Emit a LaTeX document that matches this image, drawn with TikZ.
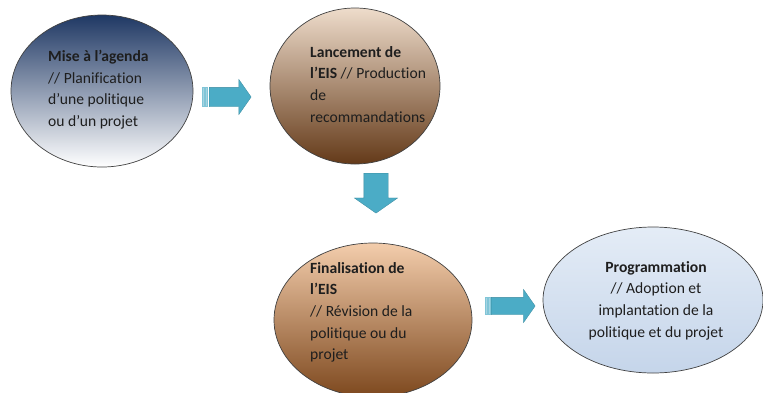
\documentclass[tikz,border=0pt]{standalone}
\usepackage{fontspec}
\setmainfont{Carlito}[Ligatures=NoCommon]
\usetikzlibrary{shapes.geometric,shapes.arrows}

\definecolor{navytop}{RGB}{31,56,100}
\definecolor{tantop}{RGB}{238,220,203}
\definecolor{brownbot}{RGB}{100,58,25}
\definecolor{peachtop}{RGB}{243,205,172}
\definecolor{rustbot}{RGB}{125,72,30}
\definecolor{skytop}{RGB}{228,236,246}
\definecolor{skybot}{RGB}{197,213,234}
\definecolor{arrowblue}{RGB}{75,172,198}
\definecolor{arrowpale}{RGB}{165,212,226}
\definecolor{inkgray}{RGB}{30,30,30}

\begin{document}
\begin{tikzpicture}[x=1pt, y=-1pt,
		phase/.style={ellipse, draw=black!75, line width=0.7pt, inner sep=0pt},
		phasetext/.style={inner sep=0pt, text=inkgray, font=\fontsize{15.6}{21.7}\selectfont},
		blockarrow/.style={single arrow, fill=arrowblue, draw=arrowblue!80!black, line width=0.3pt, inner sep=0pt, single arrow tip angle=110},
		stripe/.style={fill=arrowpale, draw=arrowblue!70, line width=0.3pt}]
		%\draw[lightgray] (0, 0) grid[step=50] (763, 392);
		\useasboundingbox (0, 0) rectangle (763, 392);
		
		\node[phase, minimum width=182, minimum height=152, top color=navytop, bottom color=white] (agenda) at (102, 91) {};
		\node[phase, minimum width=170, minimum height=156, top color=tantop, bottom color=brownbot] (lancement) at (355, 86) {};
		\node[phase, minimum width=198, minimum height=154, top color=peachtop, bottom color=rustbot] (finalisation) at (373, 320) {};
		\node[phase, minimum width=220, minimum height=146, top color=skytop, bottom color=skybot] (programmation) at (653, 300) {};
		
		\node[phasetext, anchor=north west, align=left] (agendatxt) at (48, 50) {\textbf{Mise à l’agenda}\\// Planification\\d’une politique\\ou d’un projet};
		\node[phasetext, anchor=north west, align=left] (lancementtxt) at (310, 46) {\textbf{Lancement de}\\\textbf{l’EIS} // Production\\de\\recommandations};
		\node[phasetext, anchor=north west, align=left] (finalisationtxt) at (310, 262) {\textbf{Finalisation de}\\\textbf{l’EIS}\\// Révision de la\\politique ou du\\projet};
		\node[phasetext, anchor=north, align=center] (programmationtxt) at (656, 261) {\textbf{Programmation}\\// Adoption et\\implantation de la\\politique et du projet};
		
		\node[blockarrow, anchor=tail, inner ysep=9.5pt, minimum width=35, minimum height=42, single arrow head extend=8] (versA) at (209, 97) {};
		\node[blockarrow, anchor=tail, inner xsep=12pt, minimum width=43, minimum height=40, single arrow head extend=9.5, shape border rotate=270] (versB) at (376, 173) {};
		\node[blockarrow, anchor=tail, inner ysep=8.5pt, minimum width=33, minimum height=44, single arrow head extend=8] (versC) at (491, 306) {};
		
		\draw[stripe] ([xshift=-7pt, yshift=9.5pt]versA.tail) rectangle ++(2, 19);
		\draw[stripe] ([xshift=-3.5pt, yshift=9.5pt]versA.tail) rectangle ++(2, 19);
		\draw[stripe] ([xshift=-6pt, yshift=8.5pt]versC.tail) rectangle ++(2, 17);
		\draw[stripe] ([xshift=-3pt, yshift=8.5pt]versC.tail) rectangle ++(2, 17);
	\end{tikzpicture}
\end{document}
